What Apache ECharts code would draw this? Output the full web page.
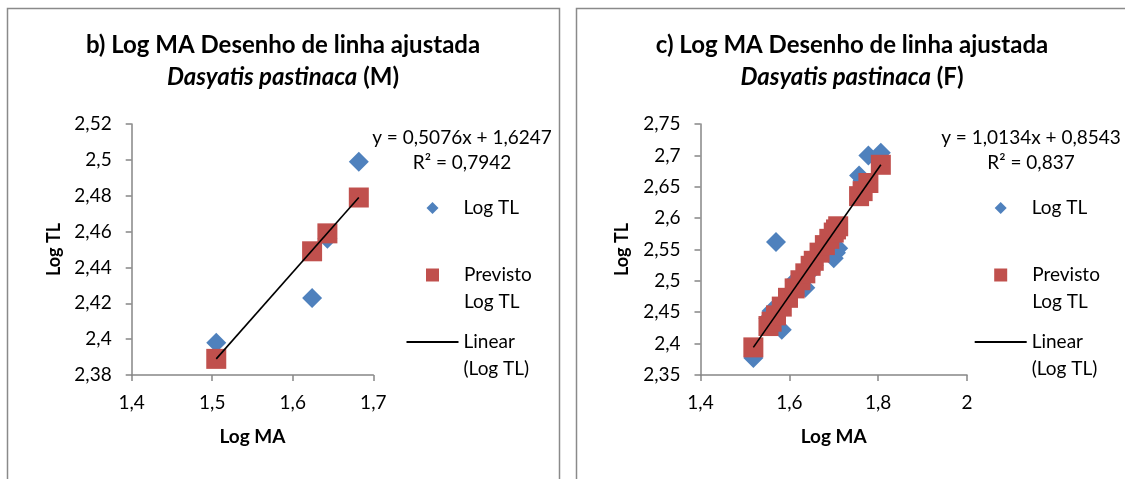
<!DOCTYPE html>
<html>
<head>
<meta charset="utf-8">
<script src="https://cdn.jsdelivr.net/npm/echarts@6/dist/echarts.min.js"></script>
<style>
html,body{margin:0;padding:0;background:#fff;}
#chart{width:1125px;height:479px;}
</style>
</head>
<body>
<div id="chart"></div>
<script>
// ---- Panel b) males ----
var maM = [1.505, 1.624, 1.643, 1.682];
var tlM = [2.398, 2.423, 2.456, 2.499];
var predM = [2.389, 2.449, 2.459, 2.479];
var xTicksM = [1.4, 1.5, 1.6, 1.7];
var yTicksM = [2.38, 2.40, 2.42, 2.44, 2.46, 2.48, 2.50, 2.52];

// ---- Panel c) females ----
var maF = [1.519, 1.553, 1.560, 1.570, 1.583, 1.597, 1.612, 1.625, 1.636, 1.648, 1.655, 1.668, 1.680, 1.690, 1.700, 1.705, 1.710, 1.757, 1.765, 1.778, 1.806];
var tlF = [2.377, 2.440, 2.452, 2.562, 2.422, 2.478, 2.500, 2.493, 2.489, 2.515, 2.525, 2.540, 2.548, 2.560, 2.536, 2.545, 2.552, 2.668, 2.660, 2.700, 2.704];
var predF = [2.394, 2.428, 2.435, 2.445, 2.459, 2.473, 2.488, 2.501, 2.512, 2.524, 2.532, 2.545, 2.557, 2.567, 2.577, 2.582, 2.587, 2.635, 2.643, 2.656, 2.685];
var xTicksF = [1.4, 1.6, 1.8, 2.0];
var yTicksF = [2.35, 2.40, 2.45, 2.50, 2.55, 2.60, 2.65, 2.70, 2.75];

var titlesLine1 = ['b) Log MA Desenho de linha ajustada', 'c) Log MA Desenho de linha ajustada'];
var species = 'Dasyatis pastinaca';
var sexLabels = ['(M)', '(F)'];
var equations = ['y = 0,5076x + 1,6247', 'y = 1,0134x + 0,8543'];
var r2Labels = ['R² = 0,7942', 'R² = 0,837'];
var seriesNames = ['Log TL', 'Previsto\nLog TL', 'Linear\n(Log TL)'];
var xName = 'Log MA', yName = 'Log TL';

var FONT = 'Lato, "Open Sans", sans-serif';
var BLUE = '#4F81BD', RED = '#C0504D', AXIS = '#868686', TXT = '#000';

function pairs(xs, ys){ return xs.map(function(x,i){ return [x, ys[i]]; }); }
function fmt(d){ return function(v){ return String(parseFloat(v.toFixed(d))).replace('.', ','); }; }

var grids = [
  {left:131.7, top:124, width:241.6, height:251},
  {left:700.5, top:124, width:266.5, height:251}
];

function xAxis(gi, ticks){
  return {
    type:'value', gridIndex:gi, min:ticks[0], max:ticks[ticks.length-1],
    interval: parseFloat((ticks[1]-ticks[0]).toFixed(3)),
    name:xName, nameLocation:'middle', nameGap:52,
    nameTextStyle:{fontFamily:FONT, fontSize:19, fontWeight:'bold', color:TXT},
    axisLine:{show:true, onZero:false, lineStyle:{color:AXIS, width:1.5}},
    axisTick:{show:true, length:6, lineStyle:{color:AXIS, width:1.5}},
    axisLabel:{fontFamily:FONT, fontSize:19, color:TXT, margin:18, formatter:fmt(2)},
    splitLine:{show:false}
  };
}
function yAxis(gi, ticks){
  return {
    type:'value', gridIndex:gi, min:ticks[0], max:ticks[ticks.length-1],
    interval: parseFloat((ticks[1]-ticks[0]).toFixed(3)),
    name:yName, nameLocation:'middle', nameGap:69, nameRotate:90,
    nameTextStyle:{fontFamily:FONT, fontSize:18, fontWeight:'bold', color:TXT},
    axisLine:{show:true, onZero:false, lineStyle:{color:AXIS, width:1.5}},
    axisTick:{show:true, length:6, lineStyle:{color:AXIS, width:1.5}},
    axisLabel:{fontFamily:FONT, fontSize:19, color:TXT, margin:20, formatter:fmt(2)},
    splitLine:{show:false}
  };
}

function panelSeries(gi, xs, tl, pred){
  var n = xs.length;
  return [
    {name:seriesNames[0], type:'scatter', xAxisIndex:gi, yAxisIndex:gi, symbol:'diamond', symbolSize:20,
     itemStyle:{color:BLUE, opacity:1}, data:pairs(xs, tl), z:2},
    {name:seriesNames[1], type:'scatter', xAxisIndex:gi, yAxisIndex:gi, symbol:'rect', symbolSize:20,
     itemStyle:{color:RED, opacity:1}, data:pairs(xs, pred), z:3},
    {name:seriesNames[2], type:'line', xAxisIndex:gi, yAxisIndex:gi, symbol:'none', showSymbol:false,
     lineStyle:{color:'#000', width:1.6}, itemStyle:{color:'#000'},
     data:[[xs[0], pred[0]], [xs[n-1], pred[n-1]]], z:4, silent:true}
  ];
}

// legend text with a blank leading line so the icon sits beside the first text line
function lead(name){ return '\n' + name; }

function legends(gi, iconCenterX, firstY){
  var L = 26.5;
  var ts = {fontFamily:FONT, fontSize:19, color:TXT, lineHeight:L};
  return [
    {left:iconCenterX-6, top:firstY-L/2, itemWidth:12, itemHeight:12,
     data:[{name:seriesNames[0], icon:'diamond', itemStyle:{color:BLUE}}],
     textStyle:Object.assign({}, ts, {padding:[0,0,0,20]})},
    {left:iconCenterX-6.5, top:firstY+67-L*1.5, itemWidth:13, itemHeight:13, formatter:lead,
     data:[{name:seriesNames[1], icon:'rect', itemStyle:{color:RED}}],
     textStyle:Object.assign({}, ts, {padding:[0,0,0,20]})},
    {left:iconCenterX-26, top:firstY+134-L*1.5, itemWidth:52, itemHeight:2, formatter:lead,
     data:[{name:seriesNames[2], icon:'rect', itemStyle:{color:'#000'}}],
     textStyle:Object.assign({}, ts)}
  ].map(function(l){ l.orient='vertical'; l.padding=0; l.selectedMode=false; return l; });
}

function title(i, cx){
  return {
    text:'{b|' + titlesLine1[i] + '}\n{i|' + species + '}{b| ' + sexLabels[i] + '}',
    left:cx, top:29, textAlign:'center', padding:0,
    textStyle:{rich:{
      b:{fontFamily:FONT, fontSize:24, fontWeight:'bold', color:TXT, lineHeight:32},
      i:{fontFamily:FONT, fontSize:24, fontWeight:'bold', fontStyle:'italic', color:TXT, lineHeight:32}
    }}
  };
}

function eqText(cx, text, y){
  return {type:'text', x:cx, y:y, style:{text:text, fontFamily:FONT, fontSize:19, fill:TXT, align:'center', verticalAlign:'middle'}, silent:true};
}

var option = {
  backgroundColor:'#fff',
  animation:false,
  title:[title(0, 283), title(1, 852)],
  grid:grids,
  xAxis:[xAxis(0, xTicksM), xAxis(1, xTicksF)],
  yAxis:[yAxis(0, yTicksM), yAxis(1, yTicksF)],
  legend:[].concat(legends(0, 432.5, 208), legends(1, 1000.7, 208)),
  series:[].concat(panelSeries(0, maM, tlM, predM), panelSeries(1, maF, tlF, predF)),
  graphic:[
    {type:'rect', shape:{x:7.5, y:8.5, width:552, height:490}, style:{fill:'none', stroke:'#8a8a8a', lineWidth:1.5}, silent:true, z:-1},
    {type:'rect', shape:{x:576.5, y:8.5, width:560, height:490}, style:{fill:'none', stroke:'#8a8a8a', lineWidth:1.5}, silent:true, z:-1},
    eqText(462, equations[0], 138),
    eqText(462, r2Labels[0], 163),
    eqText(1031, equations[1], 138),
    eqText(1031, r2Labels[1], 163)
  ]
};

var chart = echarts.init(document.getElementById('chart'), null, {renderer:'canvas'});
chart.setOption(option);
</script>
</body>
</html>
